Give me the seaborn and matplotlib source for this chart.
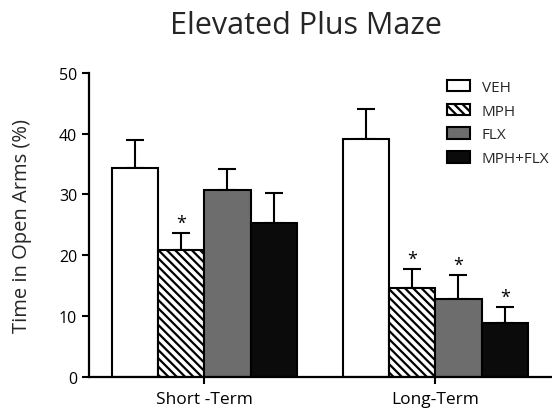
import matplotlib
matplotlib.use("Agg")
import matplotlib.pyplot as plt
import seaborn as sns
import pandas as pd
from matplotlib.patches import Patch

# Group labels and treatments
phases = ["Short -Term", "Long-Term"]
treatments = ["VEH", "MPH", "FLX", "MPH+FLX"]

# Mean time in open arms (%) per treatment, ordered by phase
veh = [34.4, 39.2]
mph = [20.9, 14.6]
flx = [30.8, 12.9]
mph_flx = [25.3, 8.8]

# Upper error (SEM) per treatment, ordered by phase
veh_err = [4.6, 4.8]
mph_err = [2.7, 3.2]
flx_err = [3.4, 3.9]
mph_flx_err = [4.9, 2.7]

# Significance markers per treatment, ordered by phase
veh_sig = [False, False]
mph_sig = [True, True]
flx_sig = [False, True]
mph_flx_sig = [False, True]

fills = {"VEH": "white", "MPH": "white", "FLX": "#6d6d6d", "MPH+FLX": "#0b0b0b"}
hatches = {"VEH": "", "MPH": "\\\\\\\\", "FLX": "", "MPH+FLX": ""}

values = [veh, mph, flx, mph_flx]
errors = [veh_err, mph_err, flx_err, mph_flx_err]
sigs = [veh_sig, mph_sig, flx_sig, mph_flx_sig]

rows = []
for t, vals, errs, sg in zip(treatments, values, errors, sigs):
    for p, v, e, s in zip(phases, vals, errs, sg):
        rows.append({"phase": p, "treatment": t, "value": v, "err": e, "sig": s})
df = pd.DataFrame(rows)

sns.set_theme(style="ticks")
plt.rcParams["font.family"] = ["Open Sans", "DejaVu Sans"]
plt.rcParams["hatch.linewidth"] = 1.6
plt.rcParams["hatch.color"] = "black"

fig, ax = plt.subplots(figsize=(5.52, 4.10), dpi=100)
fig.subplots_adjust(left=0.161, right=0.998, top=0.82, bottom=0.078)

sns.barplot(data=df, x="phase", y="value", hue="treatment", order=phases,
            hue_order=treatments, palette=fills, errorbar=None, width=0.8,
            edgecolor="black", linewidth=1.5, ax=ax, legend=False)

# Style each bar and add upper-only error bars and significance stars
for t, container in zip(treatments, ax.containers):
    sub = df[df["treatment"] == t].set_index("phase").loc[phases]
    xs = []
    for bar in container:
        bar.set_hatch(hatches[t])
        bar.set_edgecolor("black")
        bar.set_zorder(2)
        xs.append(bar.get_x() + bar.get_width() / 2)
    ax.errorbar(xs, sub["value"].values,
                yerr=[[0] * len(xs), sub["err"].values],
                fmt="none", ecolor="black", elinewidth=1.5,
                capsize=6.5, capthick=1.5, zorder=1)
    for x, v, e, s in zip(xs, sub["value"].values, sub["err"].values, sub["sig"].values):
        if s:
            ax.text(x, v + e + 0.2, "*", ha="center", va="bottom",
                    fontsize=13, color="black")

ax.set_xlim(-0.5, 1.5)
ax.set_ylim(0, 50)
ax.set_yticks([0, 10, 20, 30, 40, 50])
ax.set_xlabel("")
ax.set_ylabel("Time in Open Arms (%)", fontsize=14.5, labelpad=19)
ax.set_title("Elevated Plus Maze", fontsize=22, pad=29, x=0.47)

for side in ["top", "right"]:
    ax.spines[side].set_visible(False)
for side in ["left", "bottom"]:
    ax.spines[side].set_linewidth(1.6)
    ax.spines[side].set_color("black")
ax.tick_params(axis="both", colors="black", width=1.5, length=5,
               labelsize=11.5)
ax.tick_params(axis="x", pad=5, labelsize=12.5)

handles = [Patch(facecolor=fills[t], edgecolor="black", hatch=hatches[t],
                 linewidth=1.5, label=t) for t in treatments]
ax.legend(handles=handles, loc="upper left", bbox_to_anchor=(0.775, 0.977),
          frameon=False, fontsize=11, handlelength=1.5, handleheight=0.8,
          labelspacing=0.56, handletextpad=0.78, borderpad=0,
          borderaxespad=0)

fig.savefig("out.png", dpi=100)
